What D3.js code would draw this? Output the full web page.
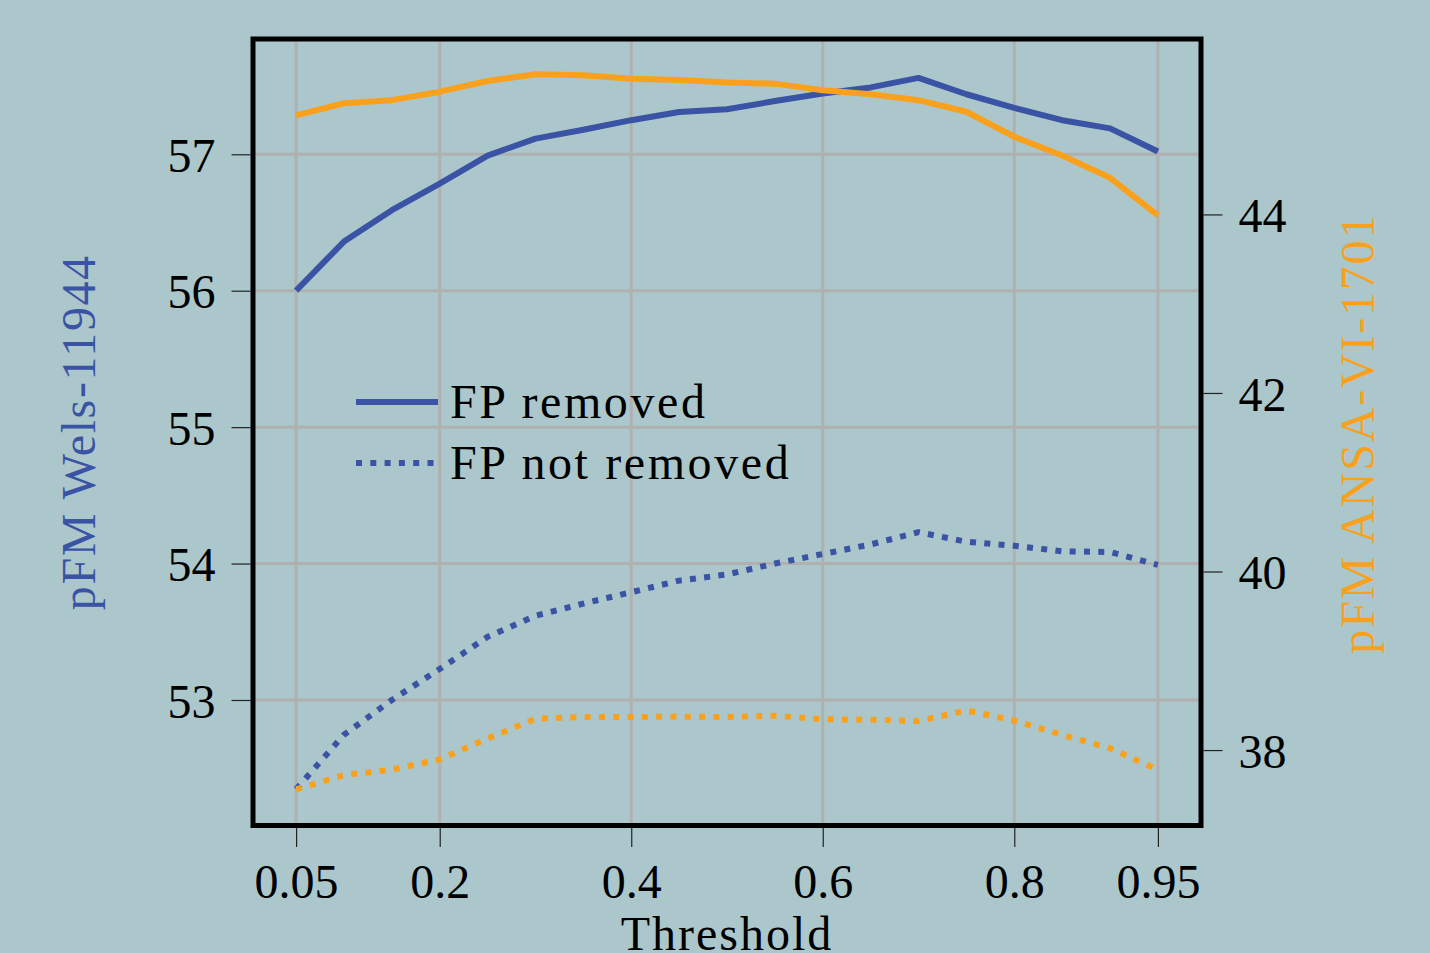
<!DOCTYPE html>
<html>
<head>
<meta charset="utf-8">
<script src="https://cdn.jsdelivr.net/npm/d3@7"></script>
<style>
  html, body { margin: 0; padding: 0; background: #abc7cb; }
  svg { display: block; }
  text { font-family: "Liberation Serif", "Times New Roman", serif; }
</style>
</head>
<body>
<svg id="chart" width="1430" height="953"></svg>
<script>
// ---- data ----
const thresholds = [0.05, 0.10, 0.15, 0.20, 0.25, 0.30, 0.35, 0.40, 0.45, 0.50,
                    0.55, 0.60, 0.65, 0.70, 0.75, 0.80, 0.85, 0.90, 0.95];
const welsRemoved    = [56.00, 56.36, 56.59, 56.785, 56.99, 57.115, 57.18, 57.25, 57.31, 57.33,
                        57.39, 57.445, 57.49, 57.56, 57.44, 57.34, 57.25, 57.19, 57.02];
const welsNotRemoved = [52.345, 52.745, 53.00, 53.227, 53.463, 53.617, 53.707, 53.79, 53.875, 53.92,
                        54.00, 54.07, 54.14, 54.23, 54.16, 54.13, 54.09, 54.085, 53.99];
const ansaRemoved    = [45.11, 45.245, 45.28, 45.375, 45.495, 45.57, 45.56, 45.52, 45.505, 45.477,
                        45.465, 45.39, 45.345, 45.28, 45.15, 44.87, 44.66, 44.41, 43.99];
const ansaNotRemoved = [37.56, 37.72, 37.78, 37.896, 38.13, 38.35, 38.37, 38.37, 38.375, 38.37,
                        38.385, 38.345, 38.34, 38.325, 38.444, 38.33, 38.17, 38.02, 37.78];
const xTicks = [0.05, 0.2, 0.4, 0.6, 0.8, 0.95];
const yLeftTicks = [53, 54, 55, 56, 57];
const yRightTicks = [38, 40, 42, 44];
const legendLabels = ["FP removed", "FP not removed"];
const xLabel = "Threshold";
const yLeftLabel = "pFM Wels-11944";
const yRightLabel = "pFM ANSA-VI-1701";

// ---- style ----
const BLUE = "#3a53a4", ORANGE = "#f9a11c", GRID = "#b0b0b0";
const DOT = "6,8.3";
const FS = 48;

const svg = d3.select("#chart");
svg.append("rect").attr("width", 1430).attr("height", 953).attr("fill", "#abc7cb");

const L = 253, R = 1201, T = 39, B = 825.5;
const x = d3.scaleLinear().domain([0.005, 0.995]).range([L, R]);
const yL = d3.scaleLinear().domain([52.08, 57.845]).range([B, T]);
const yR = d3.scaleLinear().domain([37.155, 45.965]).range([B, T]);

// grid
const grid = svg.append("g");
grid.selectAll(".gx").data(xTicks).join("line")
  .attr("x1", d => x(d)).attr("x2", d => x(d)).attr("y1", T).attr("y2", B)
  .attr("stroke", GRID).attr("stroke-width", 3);
grid.selectAll(".gy").data(yLeftTicks).join("line")
  .attr("x1", L).attr("x2", R).attr("y1", d => yL(d)).attr("y2", d => yL(d))
  .attr("stroke", GRID).attr("stroke-width", 3);

// axes
function styleAxis(g) {
  g.select(".domain").remove();
  g.selectAll(".tick line").attr("stroke", "#222").attr("stroke-width", 1.2);
  g.selectAll(".tick text").attr("fill", "#000").style("font-size", FS + "px")
    .style("font-family", '"Liberation Serif", serif');
}
const xAxis = svg.append("g").attr("transform", `translate(0,${B + 2.5})`)
  .call(d3.axisBottom(x).tickValues(xTicks).tickFormat(d => String(d)).tickSize(19).tickPadding(17));
styleAxis(xAxis);
const yAxisL = svg.append("g").attr("transform", `translate(${L - 2.5},0)`)
  .call(d3.axisLeft(yL).tickValues(yLeftTicks).tickFormat(d3.format("d")).tickSize(19).tickPadding(16));
styleAxis(yAxisL);
yAxisL.selectAll(".tick text").attr("dy", "0.36em");
const yAxisR = svg.append("g").attr("transform", `translate(${R + 2.5},0)`)
  .call(d3.axisRight(yR).tickValues(yRightTicks).tickFormat(d3.format("d")).tickSize(19).tickPadding(16));
styleAxis(yAxisR);
yAxisR.selectAll(".tick text").attr("dy", "0.36em");

// lines
svg.append("defs").append("clipPath").attr("id", "clip")
  .append("rect").attr("x", L).attr("y", T).attr("width", R - L).attr("height", B - T);
const plot = svg.append("g").attr("clip-path", "url(#clip)");
const lineL = d3.line().x((d, i) => x(thresholds[i])).y(d => yL(d));
const lineR = d3.line().x((d, i) => x(thresholds[i])).y(d => yR(d));
const series = [
  { data: welsRemoved, gen: lineL, color: BLUE, dash: null },
  { data: welsNotRemoved, gen: lineL, color: BLUE, dash: DOT },
  { data: ansaRemoved, gen: lineR, color: ORANGE, dash: null },
  { data: ansaNotRemoved, gen: lineR, color: ORANGE, dash: DOT }
];
series.forEach(s => {
  plot.append("path").attr("d", s.gen(s.data))
    .attr("fill", "none").attr("stroke", s.color).attr("stroke-width", 6)
    .attr("stroke-linejoin", "round")
    .attr("stroke-dasharray", s.dash);
});

// frame
svg.append("rect").attr("x", L).attr("y", T).attr("width", R - L).attr("height", B - T)
  .attr("fill", "none").attr("stroke", "#000").attr("stroke-width", 5);

// legend
const leg = svg.append("g");
const legRows = [{ y: 402, dash: null, x2: 438 }, { y: 463, dash: DOT, x2: 434 }];
legRows.forEach((r, i) => {
  leg.append("line").attr("x1", 356).attr("x2", r.x2).attr("y1", r.y).attr("y2", r.y)
    .attr("stroke", BLUE).attr("stroke-width", 6).attr("stroke-dasharray", r.dash);
  leg.append("text").attr("x", 450).attr("y", r.y).attr("dy", "0.33em")
    .style("font-size", FS + "px").style("letter-spacing", "2.6px")
    .attr("fill", "#000").text(legendLabels[i]);
});

// axis labels
svg.append("text").attr("x", (L + R) / 2).attr("y", 950).attr("text-anchor", "middle")
  .style("font-size", FS + "px").style("letter-spacing", "2px")
  .attr("fill", "#000").text(xLabel);
svg.append("text").attr("transform", `translate(95,${(T + B) / 2}) rotate(-90)`)
  .attr("text-anchor", "middle").style("font-size", FS + "px").style("letter-spacing", "1.6px")
  .attr("fill", BLUE).text(yLeftLabel);
svg.append("text").attr("transform", `translate(1374,${(T + B) / 2 + 1}) rotate(-90)`)
  .attr("text-anchor", "middle").style("font-size", FS + "px").style("letter-spacing", "1.8px")
  .attr("fill", ORANGE).text(yRightLabel);
</script>
</body>
</html>
